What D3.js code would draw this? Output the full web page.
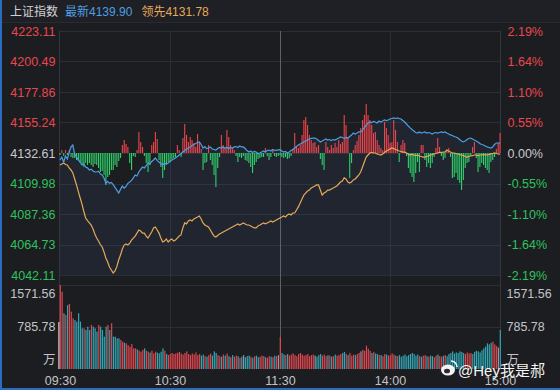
<!DOCTYPE html>
<html>
<head>
<meta charset="utf-8">
<script src="https://cdn.jsdelivr.net/npm/d3@7"></script>
<style>
  html, body { margin: 0; padding: 0; background: #1c1d21; }
  svg { display: block; }
  text { font-family: Arial, 'Liberation Sans', 'Noto Sans CJK SC', sans-serif; }
</style>
</head>
<body>
<svg id="chart"></svg>
<script>
// quote header
const indexName = '上证指数'
const preClose = 4132.61
const lastPrice = 4139.90
const leadPrice = 4131.78

// axis labels
const priceTicks = [4223.11, 4200.49, 4177.86, 4155.24, 4132.61, 4109.98, 4087.36, 4064.73, 4042.11]
const pctTicks = ['2.19%', '1.64%', '1.10%', '0.55%', '0.00%', '-0.55%', '-1.10%', '-1.64%', '-2.19%']
const timeTicks = ['09:30', '10:30', '11:30', '14:00', '15:00']
const timeTickMinutes = [0, 60, 120, 180, 240]
const volTicks = [1571.56, 785.78]
const volUnit = '万'

// index, points vs previous close, one value per minute
const indexChange = [
  -5.2, -3, -6.7, -2.2, -4.5, 0.7, 4.5, 5.9, -1, -3,
  -5, -7, -8.9, -8, -10.4, -11, -12.6, -12, -13.3, -14,
  -14.1, -13.5, -15.5, -16.3, -18.5, -22.3, -21, -22.5, -21.8, -23.5,
  -25.5, -27.5, -29.7, -27, -24.5, -26, -24.8, -22.5, -21.5, -20.3,
  -18.5, -16.3, -17, -14.1, -12.2, -10.4, -11.1, -9.3, -7.4, -8.2,
  -6.3, -5.2, -3.7, -5.5, -6.7, -7.8, -8.9, -7.4, -8.2, -7.4,
  -6.3, -5.2, -4.5, -3.7, -2.6, -1.5, -0.4, 0.7, 1.8, 3,
  3.7, 4.5, 5.5, 6.3, 7, 7.8, 8.2, 6.3, 3.7, 4.8,
  3.3, 3.7, 4.5, 3, 2.6, 2.2, 3.3, 4.1, 3.7, 4.5,
  3.7, 4.1, 3.3, 4.1, 3.7, 4.5, 4.8, 4.1, 5.2, 4.5,
  4.5, 3.3, 1.8, 0.7, 1.5, 0.4, 1.1, 0.7, -0.4, 0,
  0.7, 1.5, 0.7, 1.8, 2.2, 1.5, 2.6, 1.8, 2.2, 2.2,
  2.6, 1.5, 0.7, 1.1, 0, 0.7, 1.8, 2.6, 3.7, 4.8,
  5.9, 6.7, 7.4, 8.2, 8.9, 9.6, 10.4, 10.8, 11.1, 11.1,
  10.4, 9.3, 8.2, 8.9, 9.6, 10.4, 9.6, 10, 9.3, 10,
  9.6, 10.4, 11.1, 11.9, 11.5, 10.8, 11.5, 11.1, 12.2, 13.3,
  14.8, 14.1, 14.8, 15.6, 15.6, 17, 18.9, 20.7, 22.3, 23,
  22.6, 23.4, 23, 22.3, 23.7, 23, 23.7, 24.5, 24.1, 24.5,
  25.2, 25.6, 26, 25.6, 26, 25.6, 25.2, 24.1, 23, 21.5,
  20, 18.6, 17.4, 16.3, 15.2, 14.8, 15.6, 14.8, 15.2, 15.6,
  14.8, 15.2, 14.8, 14.1, 14.8, 15.2, 14.8, 15.2, 15.6, 15.2,
  15.6, 14.8, 14.1, 13.4, 13, 12.2, 11.9, 11.1, 10, 8.9,
  8.2, 8.9, 10, 10.8, 11.1, 10.4, 9.6, 8.9, 8.2, 7,
  6.3, 5.9, 5.2, 4.5, 4.1, 3.7, 4.5, 6.3, 7.4, 7.4,
  7.29
]

// leading index, points vs previous close
const leadChange = [
  -8.9, -8.2, -7.4, -8.5, -8.9, -11.1, -12.6, -14.8, -19.3, -23.7,
  -28.6, -33.4, -37.9, -43.4, -48.2, -50.1, -51.9, -53.4, -56.4, -60.1,
  -63.1, -65.3, -67.9, -69.7, -73.4, -77.9, -80.9, -84.6, -86.8, -89,
  -87.5, -84.3, -79.4, -75.7, -71.2, -68.3, -67.5, -68.3, -66.8, -64.6,
  -63.1, -61.6, -59.4, -57.1, -57.9, -59.4, -59.4, -61.6, -63.1, -60.8,
  -58.6, -55.6, -54.9, -57.1, -59.4, -63.1, -66, -65.3, -63.8, -66,
  -64.6, -63.8, -65.3, -64.6, -63.1, -61.6, -60.8, -55.6, -51.9, -52.6,
  -50.4, -49.7, -50.4, -48.9, -48.2, -47.5, -46.7, -49, -51.9, -53.4,
  -54.1, -54.9, -57.1, -59.4, -61.6, -62.3, -61.2, -60.1, -59.4, -58.6,
  -57.9, -57.1, -56.4, -55.6, -54.9, -54.1, -53.4, -52.6, -53.4, -52.6,
  -51.9, -52.6, -53.4, -53.4, -54.1, -54.9, -55.6, -55.6, -54.1, -53.4,
  -52.6, -51.9, -52.6, -51.9, -51.2, -50.4, -51.2, -50.4, -49.7, -48.9,
  -48.2, -47.5, -46.7, -47.5, -46, -45.2, -46, -44.5, -44.5, -42.3,
  -40, -37.1, -34.1, -31.2, -29.7, -28.2, -27.5, -26, -25.2, -24.5,
  -23.7, -23.7, -27.5, -31.2, -29.7, -28.9, -27.5, -27.5, -26.7, -26,
  -25.2, -24.5, -23, -21.5, -20.8, -18.5, -19.3, -21.5, -22.3, -21.5,
  -20, -19.3, -17.8, -16.3, -14.1, -10.4, -6.7, -3, -1.5, 0,
  0.4, 0, 0, -0.7, -1.1, -1.5, -0.7, 0.4, 1.5, 2.2,
  3, 3.7, 3.3, 2.6, 2.2, 1.5, 1.1, 0.7, 0.7, 0,
  -0.7, -1.5, -1.1, -1.5, -1.9, -1.5, -2.2, -2.6, -3, -3,
  -2.6, -2.2, -1.5, -1.1, -0.7, -0.4, 0, 0.4, 0.4, 0.7,
  0.7, 2.2, 1.5, 0.7, 0, 0, -0.4, -0.7, -1.1, -1.5,
  -1.9, -2.6, -3, -2.6, -2.2, -1.9, -1.5, -1.5, -1.9, -1.5,
  -1.5, -1.1, -1.5, -1.5, -1.1, -0.7, -0.4, 0, -0.4, -0.7,
  -0.83
]

// red / green strength bars around the zero line
const strength = [
  -2, 3, -3, 3, -2, 3, -4, -5, -5, -7,
  -8, -9, -12, -14, -10, -12, -10, -12, -14, -11,
  -12, -15, -19, -18, -22, -32, -24, -22, -17, -17,
  -12, -14, -8, -5, 8, 13, 9, 6, -10, -17,
  -3, -4, 3, 21, 11, 6, -3, -10, -19, -12,
  8, 11, 21, 14, -7, -14, -25, -17, -12, -9,
  -9, -6, -5, -4, 8, 3, -4, 15, 29, 18,
  11, 16, 13, 10, 6, 19, 11, 4, -17, -10,
  -9, 8, -7, -12, -22, -34, -15, -4, 18, 8,
  5, 23, 16, 8, 5, 3, -3, -9, -4, -5,
  -3, -7, -8, -10, -14, -20, -12, -9, -6, -5,
  -4, -4, 5, -3, -7, -4, 3, -3, -4, -3,
  -2, -4, -5, -4, -6, -5, -3, 4, 20, 6,
  5, 8, 18, 33, 36, 28, 18, 13, 10, 11,
  6, 8, -6, -12, -17, 11, 6, 3, 8, 5,
  10, 6, 13, 9, 11, 38, 28, 15, -25, -10,
  3, 8, 12, 18, 25, 33, 38, 49, 38, 33,
  28, 20, 21, 13, 8, 5, 3, 31, 25, 18,
  10, 11, 33, 23, 11, -9, 8, 13, 10, -3,
  -15, -20, -24, -29, -20, -9, -19, 8, 8, -7,
  -14, -10, -15, -10, -4, 5, 15, 6, -3, -7,
  -5, 3, 5, -4, -25, -24, -20, -27, -30, -37,
  -27, -15, -10, -9, -3, 6, 11, -5, -19, -14,
  -10, -12, -15, -17, -20, -9, -7, -4, 4, 10,
  20
]

// volume per minute, 万手
const auctionVolume = 880
const volume = [
  1571.56, 1447, 1042, 1011, 1197, 1216, 1073, 948, 917, 886,
  1042, 886, 761, 761, 730, 792, 730, 823, 792, 761,
  699, 823, 792, 730, 605, 792, 823, 730, 855, 605,
  605, 574, 574, 543, 511, 492, 480, 449, 418, 468,
  387, 387, 368, 343, 324, 356, 387, 343, 324, 306,
  343, 293, 324, 306, 293, 324, 387, 343, 281, 262,
  281, 300, 280, 290, 305, 320, 290, 270, 300, 330,
  280, 260, 290, 270, 310, 260, 280, 250, 270, 240,
  230, 260, 290, 250, 330, 300, 260, 240, 230, 270,
  250, 290, 240, 220, 260, 230, 250, 240, 210, 230,
  260, 220, 240, 250, 230, 210, 240, 250, 220, 230,
  250, 240, 220, 210, 240, 230, 220, 250, 240, 260,
  599, 300, 270, 260, 280, 250, 270, 290, 260, 240,
  280, 300, 270, 250, 260, 280, 240, 260, 270, 250,
  230, 260, 280, 250, 270, 240, 260, 250, 230, 240,
  270, 250, 260, 280, 300, 320, 280, 260, 300, 250,
  270, 260, 280, 300, 330, 360, 340, 436, 380, 340,
  300, 320, 290, 280, 260, 260, 240, 280, 270, 250,
  260, 290, 270, 250, 240, 260, 230, 250, 270, 240,
  260, 280, 300, 280, 250, 270, 240, 230, 250, 260,
  240, 230, 250, 240, 220, 250, 270, 240, 230, 250,
  260, 240, 280, 300, 330, 290, 310, 300, 330, 320,
  300, 280, 310, 290, 300, 280, 320, 340, 330, 310,
  350, 387, 420, 480, 460, 490, 511, 460, 430, 400,
  730
]

const watermark = '@Hey我是郝'

class IntradayChart
{
    constructor(svgElement)
    {
        this.width = 560
        this.height = 390

        // colours
        this.bg = '#1c1d21'
        this.grid = '#2c2e35'
        this.gridStrong = '#5e6068'
        this.up = '#ee454b'
        this.down = '#30d06a'
        this.upText = '#e9474d'
        this.downText = '#2fc15d'
        this.flatText = '#c9c9cc'
        this.volUp = '#de484e'
        this.volDown = '#33a7b4'
        this.volFlat = '#9a95a8'
        this.indexColor = '#4d9ee2'
        this.leadColor = '#e5a958'

        // panels
        this.left = 59.5
        this.right = 500.5
        this.mainTop = 31
        this.mainBottom = 275
        this.volTop = 285
        this.volBottom = 369

        this.svg = d3.select(svgElement)
            .attr('width', this.width)
            .attr('height', this.height)

        this.x = d3.scaleLinear().domain([0, 240]).range([60, 500])
        this.yPrice = d3.scaleLinear()
            .domain(d3.extent(priceTicks))
            .range([this.mainBottom, this.mainTop])
        this.yStrength = d3.scaleLinear()
            .domain([-122, 122])
            .range([this.mainBottom, this.mainTop])
        this.yVol = d3.scaleLinear()
            .domain([0, volTicks[0]])
            .range([this.volBottom, this.volTop])

        this.drawFrame()
        this.drawGrid()
        this.drawMain()
        this.drawVolume()
        this.drawAxes()
        this.drawHeader()
        this.drawWatermark()
    }

    drawFrame()
    {
        this.svg.append('rect')
            .attr('width', this.width).attr('height', this.height)
            .attr('fill', this.bg)

        this.svg.append('rect')
            .attr('width', this.width).attr('height', 22)
            .attr('fill', '#1f2025')
        this.svg.append('line')
            .attr('x1', 0).attr('x2', this.width)
            .attr('y1', 22.5).attr('y2', 22.5)
            .attr('stroke', '#2a2b31')

        // blue window edge
        this.svg.append('rect')
            .attr('x', 0).attr('y', 0).attr('width', 2).attr('height', this.height)
            .attr('fill', '#2a6cc0')
        this.svg.append('rect')
            .attr('x', 0).attr('y', this.height - 2).attr('width', this.width).attr('height', 2)
            .attr('fill', '#2a6cc0')
    }

    drawGrid()
    {
        const g = this.svg.append('g')

        g.selectAll('.hgrid')
            .data(priceTicks)
            .join('line')
            .attr('x1', this.left).attr('x2', this.right)
            .attr('y1', d => Math.round(this.yPrice(d)) + 0.5)
            .attr('y2', d => Math.round(this.yPrice(d)) + 0.5)
            .attr('stroke', this.grid)

        g.selectAll('.vgrid')
            .data([volTicks[0], volTicks[1]])
            .join('line')
            .attr('x1', this.left).attr('x2', this.right)
            .attr('y1', d => Math.round(this.yVol(d)) + 0.5)
            .attr('y2', d => Math.round(this.yVol(d)) + 0.5)
            .attr('stroke', this.grid)

        // vertical lines through both panels
        g.selectAll('.tgrid')
            .data(timeTickMinutes.slice(1, 4))
            .join('line')
            .attr('x1', d => Math.round(this.x(d)) + 0.5)
            .attr('x2', d => Math.round(this.x(d)) + 0.5)
            .attr('y1', this.mainTop).attr('y2', this.volBottom)
            .attr('stroke', d => d === 120 ? this.gridStrong : this.grid)

        // panel borders
        g.selectAll('.border')
            .data([this.left, this.right])
            .join('line')
            .attr('x1', d => d).attr('x2', d => d)
            .attr('y1', this.mainTop).attr('y2', this.volBottom)
            .attr('stroke', '#34363d')
    }

    drawMain()
    {
        const index = indexChange.map(d => preClose + d)
        const lead = leadChange.map(d => preClose + d)

        const area = d3.area()
            .x((d, i) => this.x(i))
            .y0(this.mainBottom)
            .y1(d => this.yPrice(d))

        this.svg.append('path')
            .datum(index)
            .attr('d', area)
            .attr('fill', 'rgba(72, 112, 170, 0.11)')

        const zero = this.yStrength(0)
        this.svg.append('g')
            .selectAll('rect')
            .data(strength)
            .join('rect')
            .attr('x', (d, i) => this.x(i) - 0.5)
            .attr('width', 1.1)
            .attr('y', d => Math.min(zero, this.yStrength(d)))
            .attr('height', d => Math.abs(this.yStrength(d) - zero))
            .attr('fill', d => d >= 0 ? this.up : this.down)

        const line = d3.line()
            .x((d, i) => this.x(i))
            .y(d => this.yPrice(d))

        this.svg.append('path')
            .datum(lead)
            .attr('d', line)
            .attr('fill', 'none')
            .attr('stroke', this.leadColor)
            .attr('stroke-width', 1.2)

        this.svg.append('path')
            .datum(index)
            .attr('d', line)
            .attr('fill', 'none')
            .attr('stroke', this.indexColor)
            .attr('stroke-width', 1.2)
    }

    drawVolume()
    {
        const base = this.yVol(0)
        const colour = (i) =>
        {
            if(i === 0) return this.volUp
            const diff = indexChange[i] - indexChange[i - 1]
            if(diff > 0) return this.volUp
            if(diff < 0) return this.volDown
            return this.volFlat
        }

        const g = this.svg.append('g')

        g.append('rect')
            .attr('x', this.x(0) - 1.6)
            .attr('width', 1.1)
            .attr('y', this.yVol(auctionVolume))
            .attr('height', base - this.yVol(auctionVolume))
            .attr('fill', '#f2f2f2')

        g.selectAll('.vol')
            .data(volume)
            .join('rect')
            .attr('x', (d, i) => this.x(i) - 0.3)
            .attr('width', 1.2)
            .attr('y', d => this.yVol(d))
            .attr('height', d => base - this.yVol(d))
            .attr('fill', (d, i) => colour(i))
    }

    drawAxes()
    {
        const tickColour = (i) => i < 4 ? this.upText : i > 4 ? this.downText : this.flatText

        const leftAxis = this.svg.append('g')
            .attr('transform', `translate(${this.left},0)`)
            .call(d3.axisLeft(this.yPrice)
                .tickValues(priceTicks)
                .tickFormat(d3.format('.2f'))
                .tickSize(0)
                .tickPadding(4))

        const rightAxis = this.svg.append('g')
            .attr('transform', `translate(${this.right},0)`)
            .call(d3.axisRight(this.yPrice)
                .tickValues(priceTicks)
                .tickFormat((d, i) => pctTicks[i])
                .tickSize(0)
                .tickPadding(7))

        for(const axis of [leftAxis, rightAxis])
        {
            axis.select('.domain').remove()
            axis.selectAll('text')
                .attr('font-size', 12.5)
                .attr('font-family', null)
                .attr('fill', (d, i) => tickColour(i))
        }

        // volume labels, top one kept inside the panel
        const volLabels = [...volTicks.map(d => ({ text: d3.format('.2f')(d), y: Math.max(this.yVol(d), this.volTop + 9) })),
            { text: volUnit, y: this.yVol(0) - 9 }]

        this.svg.append('g')
            .selectAll('text')
            .data(volLabels)
            .join('text')
            .attr('x', this.left - 4)
            .attr('y', d => d.y)
            .attr('dy', '0.35em')
            .attr('text-anchor', 'end')
            .attr('font-size', 12.5)
            .attr('fill', '#c3c3c6')
            .text(d => d.text)

        this.svg.append('g')
            .selectAll('text')
            .data(volLabels)
            .join('text')
            .attr('x', this.right + 6)
            .attr('y', d => d.y)
            .attr('dy', '0.35em')
            .attr('font-size', 12.5)
            .attr('fill', '#c3c3c6')
            .text(d => d.text)

        const timeAxis = this.svg.append('g')
            .attr('transform', `translate(0,${this.volBottom})`)
            .call(d3.axisBottom(this.x)
                .tickValues(timeTickMinutes)
                .tickFormat((d, i) => timeTicks[i])
                .tickSize(0)
                .tickPadding(7))

        timeAxis.select('.domain').remove()
        timeAxis.selectAll('text')
            .attr('font-size', 12.5)
            .attr('font-family', null)
            .attr('fill', '#c3c3c6')
    }

    drawHeader()
    {
        const header = this.svg.append('text')
            .attr('x', 10)
            .attr('y', 16)
            .attr('font-size', 12)

        header.append('tspan').attr('fill', '#d2d2d4').text(indexName)
        header.append('tspan').attr('dx', 7).attr('fill', this.indexColor).text('最新' + lastPrice.toFixed(2))
        header.append('tspan').attr('dx', 9).attr('fill', this.leadColor).text('领先' + leadPrice.toFixed(2))
    }

    drawWatermark()
    {
        const g = this.svg.append('g')
            .attr('transform', 'translate(448,370)')

        // small weibo-like eye mark
        g.append('ellipse')
            .attr('rx', 7).attr('ry', 5.5)
            .attr('fill', '#f4f4f4')
        g.append('ellipse')
            .attr('cx', -1).attr('cy', 1).attr('rx', 3).attr('ry', 2.3)
            .attr('fill', '#2a2a2e')
        g.append('path')
            .attr('d', 'M3,-9 A6,6 0 0 1 9,-3')
            .attr('fill', 'none')
            .attr('stroke', '#f4f4f4')
            .attr('stroke-width', 1.6)

        this.svg.append('text')
            .attr('x', 458)
            .attr('y', 376)
            .attr('font-size', 15)
            .attr('fill', '#f6f6f6')
            .attr('stroke', 'rgba(0,0,0,0.35)')
            .attr('stroke-width', 0.6)
            .attr('paint-order', 'stroke')
            .text(watermark)
    }
}

new IntradayChart(document.getElementById('chart'))
</script>
</body>
</html>
